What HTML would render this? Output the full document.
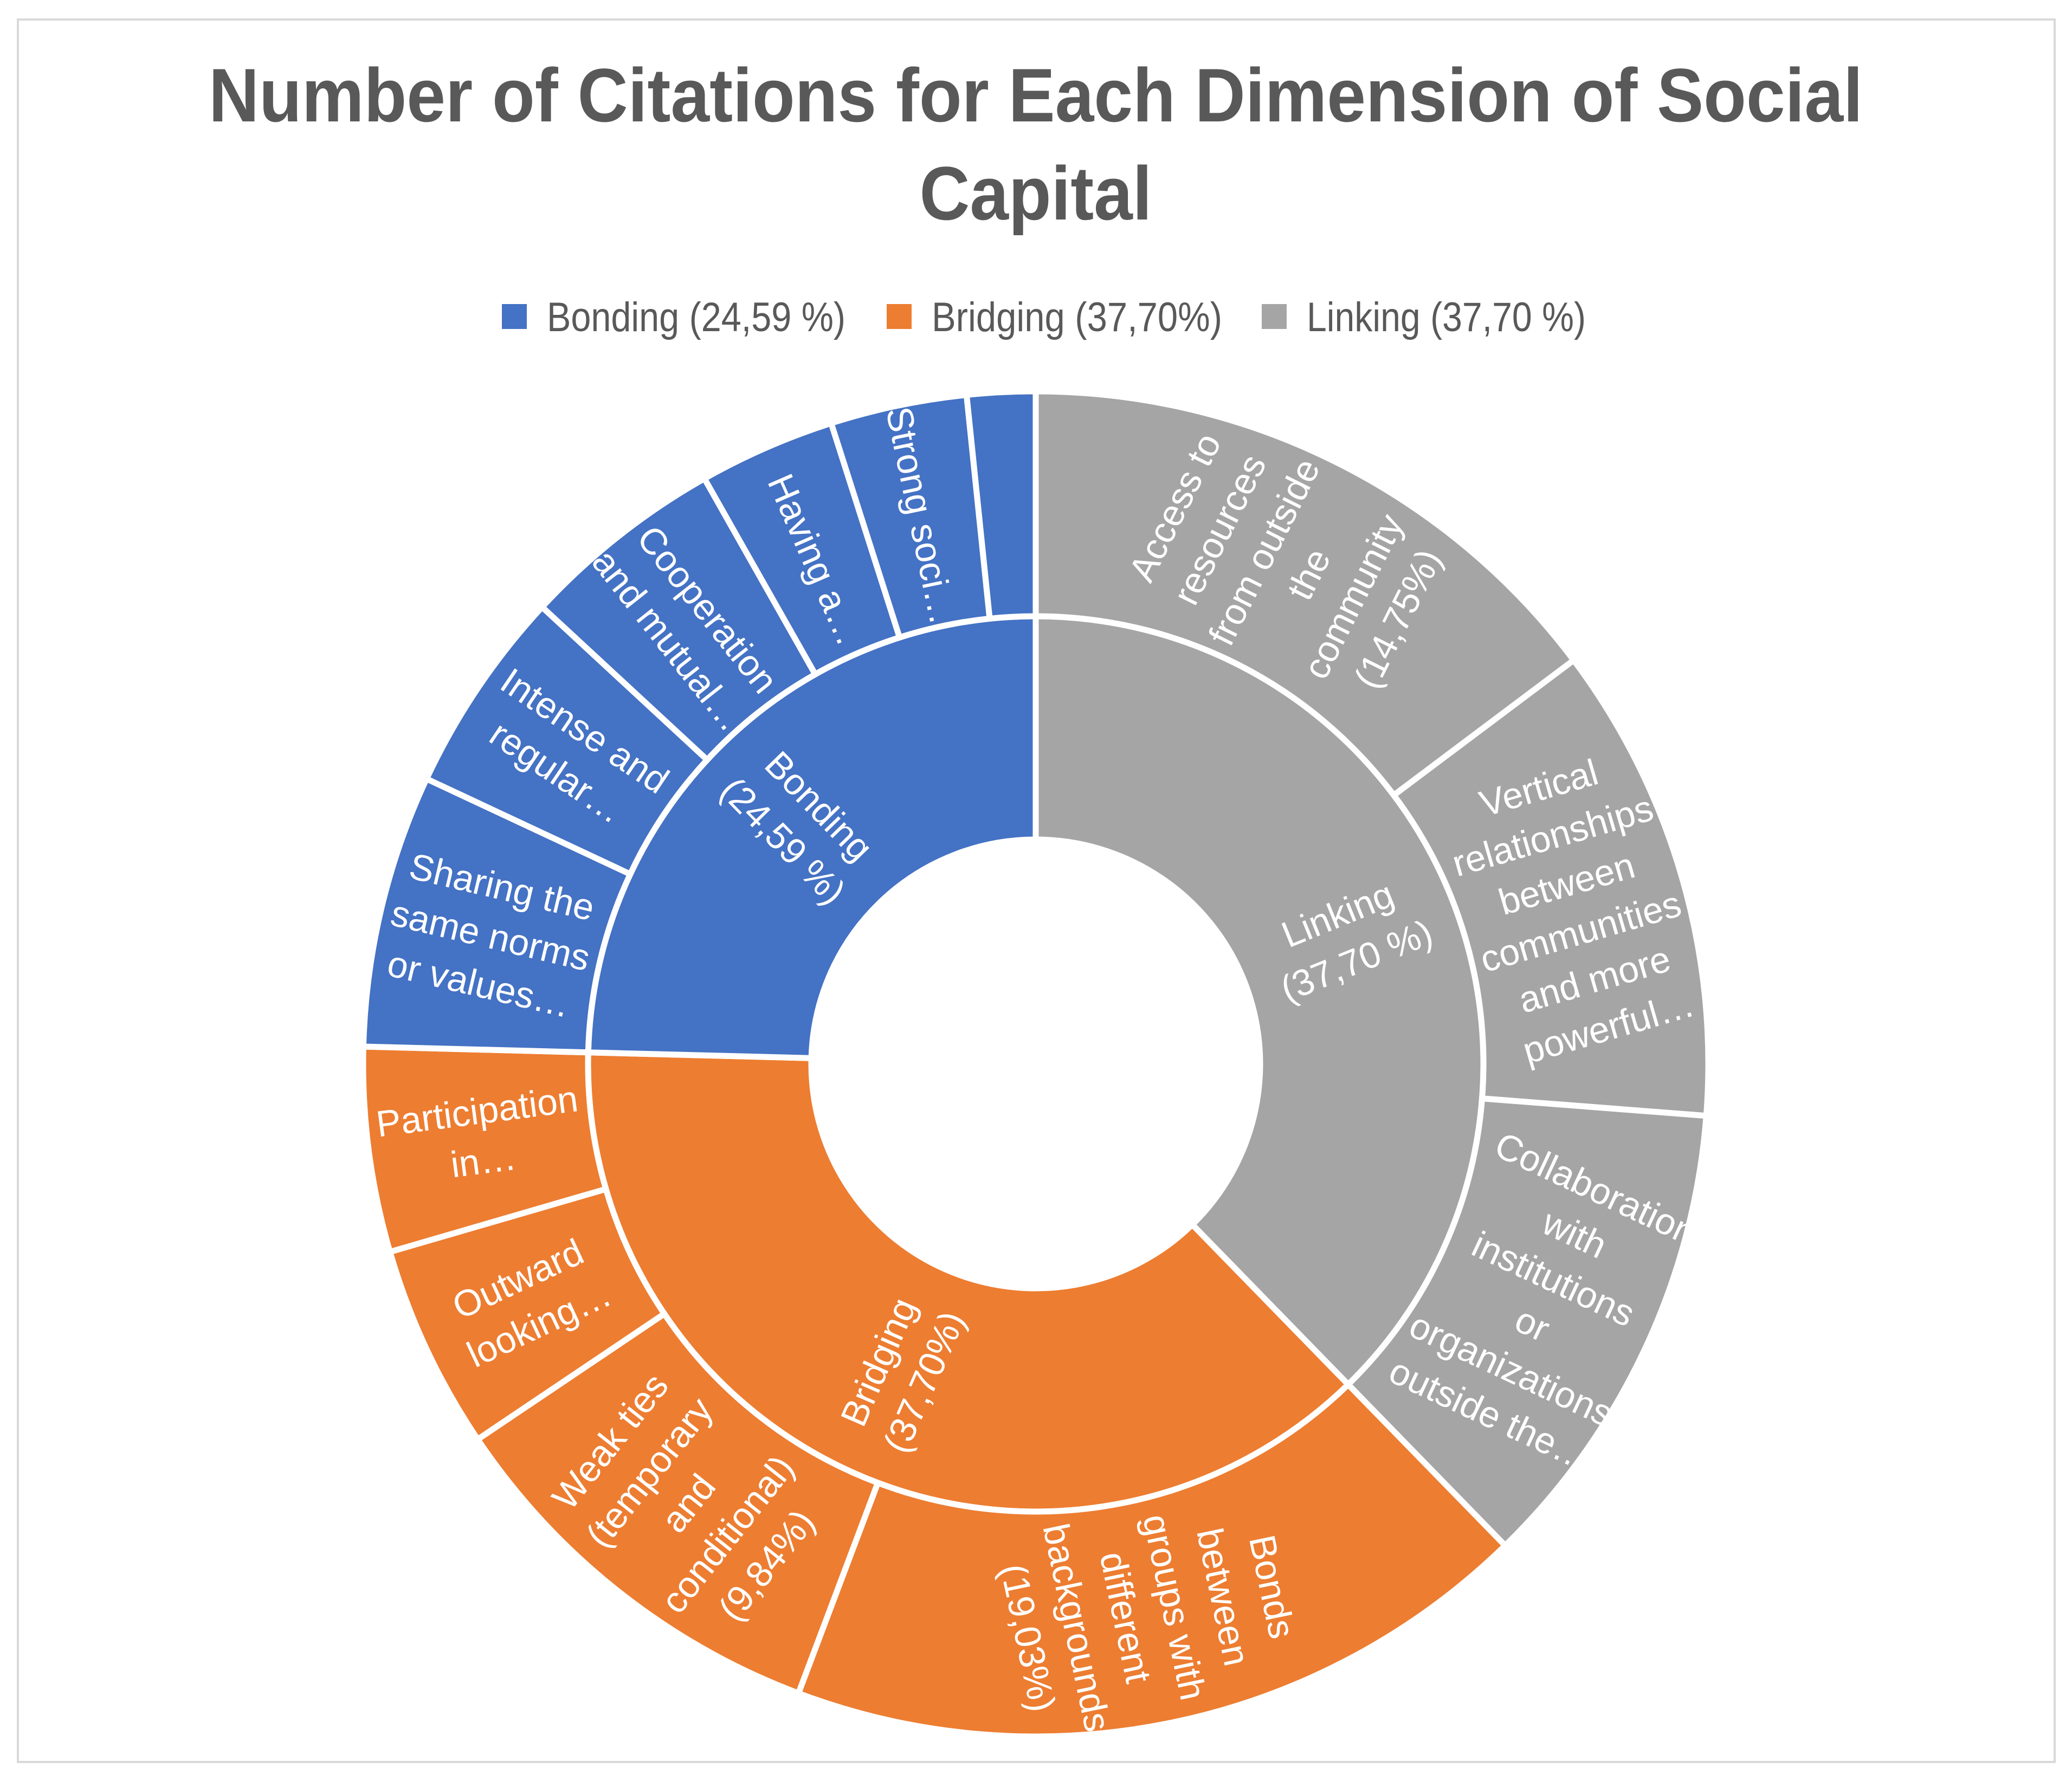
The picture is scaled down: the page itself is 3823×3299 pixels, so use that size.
<!DOCTYPE html>
<html lang="en">
<head>
<meta charset="utf-8">
<title>Number of Citations for Each Dimension of Social Capital</title>
<style>
  html, body { margin: 0; padding: 0; background: #fff; }
  body { width: 3823px; height: 3299px; overflow: hidden; }
  svg { display: block; font-family: "Liberation Sans", sans-serif; }
  .linking { fill: #A5A5A5; }
  .bridging { fill: #ED7D31; }
  .bonding { fill: #4472C4; }
  .segment { stroke: #fff; stroke-width: 11; stroke-linejoin: miter; }
  .segment-label { fill: #fff; font-size: 68px; text-anchor: middle; }
  .title-line { fill: #595959; font-size: 140px; font-weight: bold; text-anchor: middle; }
  .legend-text { fill: #595959; font-size: 76px; }
</style>
</head>
<body>
<svg id="chart" xmlns="http://www.w3.org/2000/svg" width="3823" height="3299" viewBox="0 0 3823 3299">
  <rect x="33" y="36" width="3758" height="3215" fill="#fff" stroke="#d9d9d9" stroke-width="4"/>
  <g>
    <text class="title-line" x="1911" y="224" textLength="3052" lengthAdjust="spacingAndGlyphs">Number of Citations for Each Dimension of Social</text>
    <text class="title-line" x="1911" y="405" textLength="429" lengthAdjust="spacingAndGlyphs">Capital</text>
  </g>
  <g>
    <g>
      <rect class="bonding" x="926" y="561" width="46" height="46"/>
      <text class="legend-text" x="1009" y="611" textLength="551" lengthAdjust="spacingAndGlyphs">Bonding (24,59 %)</text>
    </g>
    <g>
      <rect class="bridging" x="1636" y="561" width="46" height="46"/>
      <text class="legend-text" x="1719" y="611" textLength="536" lengthAdjust="spacingAndGlyphs">Bridging (37,70%)</text>
    </g>
    <g>
      <rect class="linking" x="2328" y="561" width="46" height="46"/>
      <text class="legend-text" x="2411" y="611" textLength="515" lengthAdjust="spacingAndGlyphs">Linking (37,70 %)</text>
    </g>
  </g>
  <g id="rings"></g>
</svg>
<script>
// Chart data: citation counts
const groupNames = ['Linking', 'Bridging', 'Bonding'];
const groupLabels = [
  ['Linking', '(37,70 %)'],
  ['Bridging', '(37,70%)'],
  ['Bonding', '(24,59 %)']
];
const linkingCitations = [18, 14, 14];
const bridgingCitations = [22, 12, 6, 6];
const bondingCitations = [8, 6, 6, 4, 4, 2];
const linkingLabels = [
  ['Access to', 'resources', 'from outside', 'the', 'community', '(14,75%)'],
  ['Vertical', 'relationships', 'between', 'communities', 'and more', 'powerful…'],
  ['Collaboration', 'with', 'institutions', 'or', 'organizations', 'outside the…']
];
const bridgingLabels = [
  ['Bonds', 'between', 'groups with', 'different', 'backgrounds', '(19,03%)'],
  ['Weak ties', '(temporary', 'and', 'conditional)', '(9,84%)'],
  ['Outward', 'looking…'],
  ['Participation', 'in…']
];
const bondingLabels = [
  ['Sharing the', 'same norms', 'or values…'],
  ['Intense and', 'regular…'],
  ['Cooperation', 'and mutual…'],
  ['Having a…'],
  ['Strong soci…'],
  []
];
const groupCitations = [linkingCitations, bridgingCitations, bondingCitations];
const groupLeafLabels = [linkingLabels, bridgingLabels, bondingLabels];

// Geometry
const SVG_NS = 'http://www.w3.org/2000/svg';
const centerX = 1911;
const centerY = 1963;
const radiusHole = 414;
const radiusMiddle = 826;
const radiusOuter = 1241;
const lineHeight = 92;
const labelFontSize = 68;
const shortLabelInset = 18;

function sum(values) {
  return values.reduce(function (a, b) { return a + b; }, 0);
}
const totalCitations = sum(groupCitations.map(sum));

function angleScale(citations) {
  return citations / totalCitations * 360;
}
function polar(radius, degrees) {
  const r = degrees * Math.PI / 180;
  return [centerX + radius * Math.sin(r), centerY - radius * Math.cos(r)];
}
function sectorPath(r0, r1, a0, a1) {
  const large = a1 - a0 > 180 ? 1 : 0;
  const p0 = polar(r1, a0), p1 = polar(r1, a1), p2 = polar(r0, a1), p3 = polar(r0, a0);
  return 'M' + p0[0] + ' ' + p0[1] +
    'A' + r1 + ' ' + r1 + ' 0 ' + large + ' 1 ' + p1[0] + ' ' + p1[1] +
    'L' + p2[0] + ' ' + p2[1] +
    'A' + r0 + ' ' + r0 + ' 0 ' + large + ' 0 ' + p3[0] + ' ' + p3[1] + 'Z';
}
function slug(text) {
  return text.toLowerCase().replace(/[^a-z0-9]+/g, '-').replace(/^-|-$/g, '') || 'unlabelled';
}

const rings = document.getElementById('rings');
const defs = document.createElementNS(SVG_NS, 'defs');
rings.appendChild(defs);
let clipCounter = 0;

function drawSegment(r0, r1, a0, a1, cls, lines, name) {
  const d = sectorPath(r0, r1, a0, a1);
  const path = document.createElementNS(SVG_NS, 'path');
  path.setAttribute('d', d);
  path.setAttribute('class', 'segment ' + cls);
  
  
  rings.appendChild(path);
  if (!lines.length) { return; }

  clipCounter += 1;
  const clip = document.createElementNS(SVG_NS, 'clipPath');
  clip.setAttribute('id', 'clip-' + clipCounter);
  const clipShape = document.createElementNS(SVG_NS, 'path');
  clipShape.setAttribute('d', d);
  clip.appendChild(clipShape);
  defs.appendChild(clip);

  const mid = (a0 + a1) / 2;
  // Narrow single-line labels sit a little closer to the centre
  const inset = (lines.length === 1 && lines[0].indexOf('Having') === 0) ? shortLabelInset : 0;
  const pos = polar((r0 + r1) / 2 - inset, mid);
  const rotation = mid < 180 ? mid - 90 : mid - 270;
  const clipGroup = document.createElementNS(SVG_NS, 'g');
  clipGroup.setAttribute('clip-path', 'url(#clip-' + clipCounter + ')');
  const group = document.createElementNS(SVG_NS, 'g');
  group.setAttribute('transform', 'translate(' + pos[0] + ' ' + pos[1] + ') rotate(' + rotation + ')');
  
  
  lines.forEach(function (line, i) {
    const t = document.createElementNS(SVG_NS, 'text');
    t.setAttribute('class', 'segment-label');
    t.setAttribute('x', '0');
    t.setAttribute('y', String((i - (lines.length - 1) / 2) * lineHeight + labelFontSize * 0.35));
    
    
    t.textContent = line;
    group.appendChild(t);
  });
  clipGroup.appendChild(group);
  rings.appendChild(clipGroup);
}

let groupStart = 0;
groupNames.forEach(function (groupName, g) {
  const cls = groupName.toLowerCase();
  const citations = groupCitations[g];
  const groupEnd = groupStart + angleScale(sum(citations));
  drawSegment(radiusHole, radiusMiddle, groupStart, groupEnd, cls, groupLabels[g], cls);
  let leafStart = groupStart;
  citations.forEach(function (value, i) {
    const leafEnd = leafStart + angleScale(value);
    const lines = groupLeafLabels[g][i];
    drawSegment(radiusMiddle, radiusOuter, leafStart, leafEnd, cls, lines, cls + '-' + slug(lines.join(' ')));
    leafStart = leafEnd;
  });
  groupStart = groupEnd;
});
</script>
</body>
</html>
